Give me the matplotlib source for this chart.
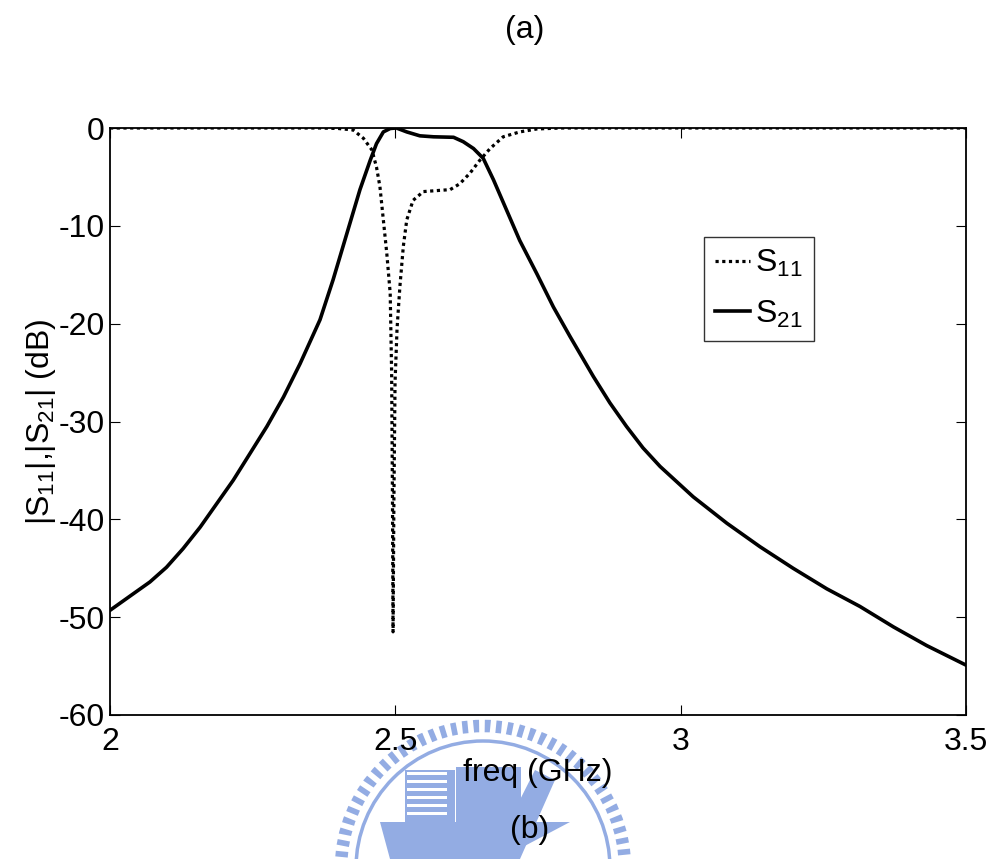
import matplotlib
matplotlib.use("Agg")
import matplotlib.pyplot as plt
from matplotlib.patches import Circle, Rectangle, Polygon

plt.rcParams['font.family'] = ['Liberation Sans', 'DejaVu Sans']
plt.rcParams['mathtext.default'] = 'regular'

# ---- data ----
s21_freq = [2.000, 2.041, 2.070, 2.099, 2.128, 2.158, 2.187, 2.216, 2.245, 2.275,
            2.304, 2.333, 2.368, 2.391, 2.415, 2.438, 2.456, 2.467, 2.479, 2.491,
            2.502, 2.520, 2.543, 2.567, 2.602, 2.619, 2.637, 2.654, 2.672, 2.695,
            2.718, 2.748, 2.777, 2.806, 2.847, 2.876, 2.905, 2.934, 2.964, 3.022,
            3.081, 3.139, 3.197, 3.256, 3.314, 3.373, 3.431, 3.500]
s21_db = [-49.3, -47.6, -46.4, -44.9, -43.0, -40.8, -38.4, -36.0, -33.3, -30.5,
          -27.5, -24.1, -19.6, -15.5, -10.8, -6.3, -3.3, -1.6, -0.4, -0.05,
          0.0, -0.4, -0.8, -0.9, -0.95, -1.4, -2.1, -3.1, -5.3, -8.4,
          -11.5, -14.9, -18.3, -21.3, -25.4, -28.1, -30.5, -32.7, -34.6, -37.7,
          -40.4, -42.8, -45.0, -47.1, -48.9, -51.0, -52.9, -54.9]

s11_freq = [2.000, 2.300, 2.368, 2.400, 2.426, 2.444, 2.459, 2.467, 2.473, 2.479,
            2.485, 2.491, 2.4935, 2.4950, 2.4960, 2.4975, 2.4995, 2.503, 2.508, 2.514,
            2.520, 2.531, 2.549, 2.572, 2.596, 2.613, 2.631, 2.648, 2.666, 2.689,
            2.718, 2.748, 2.790, 3.500]
s11_db = [0.0, 0.0, 0.0, -0.05, -0.2, -1.05, -2.25, -4.0, -6.0, -9.4,
          -12.8, -16.9, -25.0, -38.0, -51.5, -38.0, -26.0, -20.5, -16.2, -12.1,
          -9.4, -7.4, -6.5, -6.4, -6.3, -5.7, -4.6, -3.3, -2.1, -0.9,
          -0.4, -0.1, 0.0, 0.0]

x_ticks = [2, 2.5, 3, 3.5]
x_tick_labels = ['2', '2.5', '3', '3.5']
y_ticks = [0, -10, -20, -30, -40, -50, -60]
y_tick_labels = ['0', '-10', '-20', '-30', '-40', '-50', '-60']

W, H = 994, 859
FS = 23
fig = plt.figure(figsize=(W / 100, H / 100), dpi=100)

# ---- watermark (light blue seal), coordinates in inches from bottom-left ----
wm = '#93ace3'
T = fig.dpi_scale_trans
cx, cy = 4.83, (H - 868) / 100
fig.add_artist(Circle((cx, cy), 1.42, transform=T, fill=False, edgecolor=wm,
                      linewidth=9, linestyle=(0, (0.45, 0.45)), zorder=0))
fig.add_artist(Circle((cx, cy), 1.27, transform=T, fill=False, edgecolor=wm,
                      linewidth=2.5, zorder=0))
fig.add_artist(Rectangle((4.05, (H - 822) / 100), 0.5, 0.52, transform=T,
                         facecolor=wm, edgecolor='none', zorder=0))
for k in range(6):
    fig.add_artist(Rectangle((4.07, (H - 815) / 100 + k * 0.08), 0.4, 0.03,
                             transform=T, facecolor='white', edgecolor='none', zorder=0))
fig.add_artist(Rectangle((4.56, (H - 822) / 100), 0.65, 0.55, transform=T,
                         facecolor=wm, edgecolor='none', zorder=0))
fig.add_artist(Polygon([[3.8, (H - 822) / 100], [5.7, (H - 822) / 100],
                        [5.0, (H - 859) / 100], [3.9, (H - 859) / 100]],
                       closed=True, transform=T, facecolor=wm, edgecolor='none', zorder=0))
fig.add_artist(Polygon([[4.9, (H - 859) / 100], [5.35, (H - 770) / 100],
                        [5.55, (H - 780) / 100], [5.2, (H - 859) / 100]],
                       closed=True, transform=T, facecolor=wm, edgecolor='none', zorder=0))

ax = fig.add_axes([110 / W, 1 - 715 / H, (966 - 110) / W, (715 - 128) / H])
ax.patch.set_alpha(0)

ax.plot(s11_freq, s11_db, color='black', linewidth=2.3, linestyle=(0, (1.0, 1.1)),
        dash_capstyle='butt', label='S$_{11}$')
ax.plot(s21_freq, s21_db, color='black', linewidth=2.6, label='S$_{21}$')

ax.set_xlim(2, 3.5)
ax.set_ylim(-60, 0)
ax.set_xticks(x_ticks)
ax.set_xticklabels(x_tick_labels)
ax.set_yticks(y_ticks)
ax.set_yticklabels(y_tick_labels)
ax.tick_params(direction='in', length=7, width=0.8, top=True, right=True,
               labelsize=FS)
ax.tick_params(axis='x', pad=9)
ax.tick_params(axis='y', pad=4)
for s in ax.spines.values():
    s.set_linewidth(1.3)

ax.set_xlabel('freq (GHz)', fontsize=FS, labelpad=0)
ax.set_ylabel('|S$_{11}$|,|S$_{21}$| (dB)', fontsize=FS, labelpad=0)

leg = ax.legend(loc='upper left', bbox_to_anchor=((704 - 110) / 856, 1 - (237 - 128) / 587),
                fontsize=FS, frameon=True, fancybox=False, edgecolor='black',
                handlelength=1.1, handletextpad=0.15, borderpad=0.35, labelspacing=0.6,
                borderaxespad=0)
leg.get_frame().set_linewidth(1.0)

fig.text(525 / W, 1 - 30 / H, '(a)', fontsize=FS, ha='center', va='center')
fig.text(530 / W, 1 - 830 / H, '(b)', fontsize=FS, ha='center', va='center')

fig.savefig('out.png', dpi=100)
